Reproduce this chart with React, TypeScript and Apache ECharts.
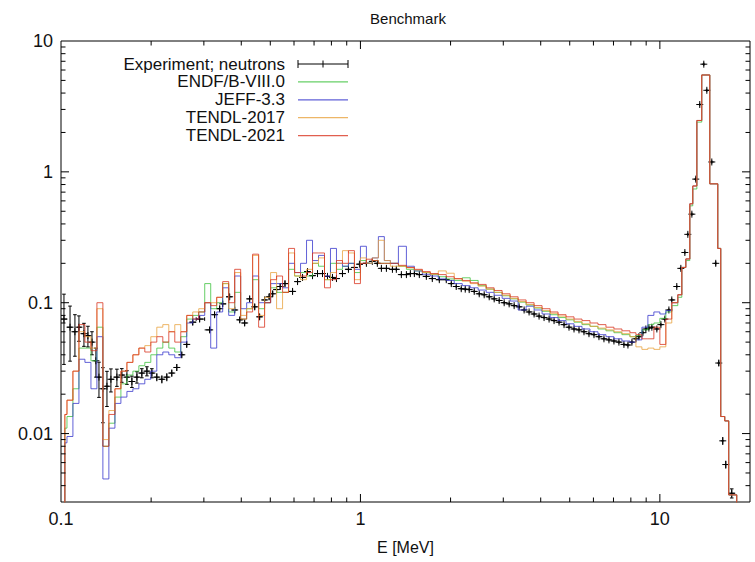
import React, { useEffect, useRef } from "react";
import * as echarts from "echarts";

// ---------- data ----------
// common group (bin) edges of the calculated spectra, MeV
const binEdges = [
  0.103, 0.1047, 0.1096, 0.1148, 0.1202, 0.1259, 0.1318, 0.138, 0.1445, 0.1514,
  0.1585, 0.166, 0.1738, 0.182, 0.1905, 0.1995, 0.2089, 0.2188, 0.2291, 0.2399,
  0.2512, 0.263, 0.2754, 0.2884, 0.302, 0.3162, 0.3311, 0.3467, 0.3631, 0.3802,
  0.3981, 0.4169, 0.4365, 0.4571, 0.4786, 0.5012, 0.5248, 0.5495, 0.5754, 0.6026,
  0.631, 0.6607, 0.6918, 0.7244, 0.7586, 0.7943, 0.8318, 0.871, 0.912, 0.955,
  1.0, 1.047, 1.096, 1.148, 1.202, 1.259,
  1.339, 1.424, 1.514, 1.61, 1.711, 1.82, 1.935, 2.057, 2.188, 2.326,
  2.473, 2.63, 2.796, 2.973, 3.162, 3.362, 3.575, 3.802, 4.042, 4.299,
  4.571, 4.86, 5.168, 5.495, 5.843, 6.213, 6.607, 7.025, 7.47, 7.943,
  8.318, 8.71, 9.12, 9.55, 10.0, 10.47, 10.96, 11.48, 11.84, 12.21,
  12.59, 12.88, 13.29, 13.8, 14.68, 15.61, 15.97, 16.47, 16.98, 18.06,
];

const endfB8 = [
  0.011, 0.0135, 0.022, 0.045, 0.045, 0.036, 0.065, 0.008, 0.012, 0.019,
  0.024, 0.028, 0.03, 0.033, 0.035, 0.04, 0.045, 0.05, 0.045, 0.042,
  0.055, 0.075, 0.08, 0.085, 0.14, 0.09, 0.1, 0.14, 0.085, 0.12,
  0.075, 0.09, 0.15, 0.09, 0.1, 0.13, 0.12, 0.12, 0.18, 0.16,
  0.17, 0.16, 0.2, 0.19, 0.15, 0.2, 0.18, 0.19, 0.2, 0.17,
  0.21, 0.2, 0.21, 0.2, 0.2,
  0.2, 0.19, 0.18, 0.175, 0.17, 0.165, 0.158, 0.152, 0.148, 0.155,
  0.148, 0.135, 0.127, 0.12, 0.113, 0.107, 0.101, 0.096, 0.091, 0.086,
  0.081, 0.077, 0.074, 0.071, 0.068, 0.066, 0.063, 0.061, 0.059, 0.057,
  0.055, 0.056, 0.062, 0.068, 0.07, 0.076, 0.085, 0.095, 0.11,
  0.186, 0.21, 0.55, 0.74, 2.4, 5.5, 0.81, 0.26, 0.0135, 0.0125, 0.0034,
];

const jeff33 = [
  0.0085, 0.0095, 0.017, 0.037, 0.035, 0.022, 0.055, 0.0045, 0.011, 0.017,
  0.019, 0.021, 0.022, 0.024, 0.026, 0.03, 0.04, 0.042, 0.04, 0.038,
  0.05, 0.07, 0.075, 0.08, 0.1, 0.045, 0.085, 0.13, 0.08, 0.16,
  0.09, 0.1, 0.16, 0.1, 0.1, 0.14, 0.14, 0.13, 0.2, 0.17,
  0.2, 0.3, 0.21, 0.23, 0.16, 0.26, 0.2, 0.19, 0.2, 0.18,
  0.27, 0.2, 0.22, 0.32, 0.21,
  0.2, 0.27, 0.19, 0.175, 0.165, 0.16, 0.152, 0.148, 0.14, 0.135,
  0.13, 0.125, 0.12, 0.114, 0.108, 0.103, 0.088, 0.094, 0.088, 0.082,
  0.077, 0.073, 0.069, 0.066, 0.063, 0.06, 0.057, 0.055, 0.053, 0.051,
  0.05, 0.052, 0.065, 0.08, 0.085, 0.082, 0.087, 0.1, 0.115,
  0.186, 0.216, 0.57, 0.78, 2.47, 5.5, 0.81, 0.26, 0.0135, 0.0125, 0.0034,
];

const tendl2017 = [
  0.014, 0.018, 0.03, 0.06, 0.055, 0.045, 0.09, 0.009, 0.015, 0.022,
  0.03, 0.035, 0.04, 0.045, 0.047, 0.055, 0.065, 0.068, 0.06, 0.068,
  0.06, 0.08, 0.085, 0.09, 0.1, 0.1, 0.11, 0.14, 0.09, 0.17,
  0.08, 0.09, 0.23, 0.08, 0.11, 0.17, 0.09, 0.12, 0.24, 0.16,
  0.15, 0.18, 0.2, 0.22, 0.15, 0.17, 0.2, 0.25, 0.24, 0.15,
  0.22, 0.2, 0.22, 0.3, 0.21,
  0.19, 0.19, 0.185, 0.178, 0.17, 0.165, 0.175, 0.168, 0.152, 0.146,
  0.14, 0.134, 0.127, 0.12, 0.114, 0.108, 0.102, 0.097, 0.092, 0.087,
  0.083, 0.079, 0.075, 0.072, 0.069, 0.066, 0.064, 0.062, 0.06, 0.058,
  0.055, 0.046, 0.044, 0.045, 0.044, 0.046, 0.07, 0.1, 0.115,
  0.186, 0.216, 0.57, 0.78, 2.47, 5.5, 0.81, 0.26, 0.0135, 0.0125, 0.0034,
];

const tendl2021 = [
  0.014, 0.018, 0.03, 0.068, 0.05, 0.043, 0.1, 0.008, 0.014, 0.022,
  0.03, 0.035, 0.04, 0.045, 0.042, 0.05, 0.055, 0.05, 0.06, 0.05,
  0.06, 0.08, 0.075, 0.085, 0.1, 0.095, 0.11, 0.145, 0.1, 0.18,
  0.075, 0.085, 0.235, 0.065, 0.1, 0.15, 0.16, 0.12, 0.26, 0.17,
  0.16, 0.17, 0.24, 0.24, 0.13, 0.15, 0.21, 0.2, 0.25, 0.14,
  0.2, 0.215, 0.21, 0.2, 0.2,
  0.2, 0.193, 0.186, 0.18, 0.173, 0.167, 0.164, 0.158, 0.153, 0.148,
  0.142, 0.138, 0.13, 0.124, 0.117, 0.111, 0.105, 0.1, 0.095, 0.09,
  0.085, 0.081, 0.078, 0.075, 0.073, 0.07, 0.068, 0.065, 0.063, 0.061,
  0.059, 0.057, 0.053, 0.053, 0.065, 0.048, 0.075, 0.1, 0.115,
  0.186, 0.216, 0.57, 0.78, 2.47, 5.5, 0.81, 0.26, 0.0135, 0.0125, 0.0034,
];

// experiment (neutrons): energy, value, relative uncertainty
const expEnergy = [
  0.1023, 0.1072, 0.1113, 0.1148, 0.1193, 0.123, 0.1269, 0.1308, 0.1339, 0.138,
  0.1424, 0.1468, 0.1537, 0.1596, 0.166, 0.1725, 0.1793, 0.1862, 0.1936, 0.2011,
  0.2089, 0.2172, 0.2256, 0.2344, 0.2436, 0.2531, 0.263, 0.2754, 0.2904, 0.3137,
  0.3258, 0.3388, 0.3467, 0.3657, 0.3802, 0.3954, 0.4105, 0.4266, 0.4436, 0.4606,
  0.4786, 0.4955, 0.5093, 0.5248, 0.5395, 0.5598, 0.5934, 0.6166, 0.6407, 0.6657,
  0.6918, 0.7189, 0.747, 0.7762, 0.8065, 0.8318, 0.871, 0.912, 0.955, 0.9924,
  1.047, 1.096, 1.139, 1.175, 1.221, 1.279, 1.318, 1.37, 1.424, 1.468,
  1.514, 1.573, 1.66, 1.738, 1.834, 1.935, 2.011, 2.089, 2.171, 2.239,
  2.308, 2.399, 2.493, 2.59, 2.692, 2.797, 2.906, 3.02, 3.138, 3.261,
  3.388, 3.521, 3.658, 3.802, 3.95, 4.105, 4.266, 4.433, 4.606, 4.786,
  4.973, 5.168, 5.37, 5.58, 5.798, 6.026, 6.261, 6.506, 6.761, 7.025,
  7.3, 7.586, 7.824, 8.068, 8.318, 8.511, 8.776, 8.98, 9.19, 9.404,
  9.772, 10.08, 10.39, 10.72, 10.96, 11.39, 11.75, 12.12, 12.4, 12.79,
  13.18, 13.59, 14.02, 14.35, 14.91, 15.37, 15.73, 16.22, 16.6, 17.38,
];
const expValue = [
  0.075, 0.065, 0.06, 0.065, 0.058, 0.056, 0.05, 0.036, 0.027, 0.022,
  0.023, 0.026, 0.027, 0.028, 0.027, 0.025, 0.027, 0.029, 0.03, 0.029,
  0.027, 0.026, 0.027, 0.029, 0.032, 0.04, 0.048, 0.071, 0.075, 0.062,
  0.081, 0.09, 0.098, 0.111, 0.088, 0.074, 0.07, 0.107, 0.093, 0.078,
  0.105, 0.111, 0.117, 0.126, 0.133, 0.14, 0.122, 0.145, 0.156, 0.173,
  0.161, 0.167, 0.167, 0.159, 0.156, 0.153, 0.167, 0.18, 0.186, 0.197,
  0.2, 0.207, 0.2, 0.183, 0.183, 0.18, 0.18, 0.164, 0.164, 0.167,
  0.167, 0.164, 0.159, 0.153, 0.15, 0.15, 0.14, 0.133, 0.128, 0.127,
  0.126, 0.122, 0.117, 0.115, 0.111, 0.107, 0.104, 0.1, 0.098, 0.095,
  0.093, 0.088, 0.085, 0.082, 0.079, 0.077, 0.075, 0.073, 0.071, 0.068,
  0.065, 0.063, 0.062, 0.06, 0.058, 0.057, 0.055, 0.053, 0.052, 0.051,
  0.05, 0.048, 0.0475, 0.05, 0.053, 0.055, 0.059, 0.063, 0.064, 0.065,
  0.063, 0.068, 0.075, 0.088, 0.105, 0.133, 0.183, 0.242, 0.333, 0.475,
  0.88, 3.27, 6.65, 4.2, 1.19, 0.2, 0.0346, 0.0088, 0.0058, 0.0035,
];
const expRelErr = [
  0.55, 0.45, 0.35, 0.22, 0.2, 0.18, 0.2, 0.25, 0.3, 0.45,
  0.3, 0.2, 0.15, 0.12, 0.12, 0.1, 0.1, 0.08, 0.08, 0.08,
  0.07, 0.07, 0.07, 0.06, 0.06, 0.05, 0.05, 0.05, 0.05, 0.05,
  0.05, 0.05, 0.05, 0.05, 0.05, 0.05, 0.05, 0.05, 0.05, 0.05,
  0.05, 0.05, 0.05, 0.05, 0.05, 0.05, 0.05, 0.04, 0.04, 0.04,
  0.03, 0.03, 0.03, 0.03, 0.03, 0.03, 0.03, 0.03, 0.03, 0.03,
  0.03, 0.03, 0.03, 0.03, 0.03, 0.03, 0.03, 0.03, 0.03, 0.03,
  0.03, 0.03, 0.03, 0.03, 0.03, 0.03, 0.03, 0.03, 0.03, 0.03,
  0.03, 0.03, 0.03, 0.03, 0.03, 0.03, 0.03, 0.03, 0.03, 0.03,
  0.03, 0.03, 0.03, 0.03, 0.03, 0.03, 0.03, 0.03, 0.03, 0.03,
  0.03, 0.03, 0.03, 0.03, 0.03, 0.03, 0.03, 0.03, 0.03, 0.03,
  0.03, 0.03, 0.03, 0.03, 0.03, 0.03, 0.03, 0.03, 0.03, 0.03,
  0.03, 0.03, 0.03, 0.03, 0.03, 0.03, 0.03, 0.03, 0.03, 0.03,
  0.03, 0.03, 0.03, 0.03, 0.03, 0.04, 0.05, 0.07, 0.07, 0.08,
];

const xMajorTicks = [1, 10];
const xMinorTicks = [0.2, 0.3, 0.4, 0.5, 0.6, 0.7, 0.8, 0.9, 2, 3, 4, 5, 6, 7, 8, 9];
const yMajorTicks = [0.01, 0.1, 1];
const yMinorTicks = [
  0.004, 0.005, 0.006, 0.007, 0.008, 0.009,
  0.02, 0.03, 0.04, 0.05, 0.06, 0.07, 0.08, 0.09,
  0.2, 0.3, 0.4, 0.5, 0.6, 0.7, 0.8, 0.9,
  2, 3, 4, 5, 6, 7, 8, 9,
];

const seriesNames = ["Experiment; neutrons", "ENDF/B-VIII.0", "JEFF-3.3", "TENDL-2017", "TENDL-2021"];
const seriesColors = ["#000000", "#3cc23c", "#3434cc", "#e8a23c", "#d8321e"];

const X_MIN = 0.1;
const X_MAX = 20;
const Y_MIN = 0.003;
const Y_MAX = 10;
const BELOW = 1e-5; // drawn below the axis (spectrum not given there)

const FONT = "'Liberation Sans', Arial, Helvetica, sans-serif";

function stepData(values: number[]) {
  const pts: number[][] = [[binEdges[0], BELOW]];
  for (let i = 0; i < values.length; i++) pts.push([binEdges[i], values[i]]);
  pts.push([binEdges[binEdges.length - 1], BELOW]);
  return pts;
}

function experimentData() {
  const n = expEnergy.length;
  return expEnergy.map((e, i) => {
    const prev = i > 0 ? expEnergy[i - 1] : (e * e) / expEnergy[i + 1];
    const next = i < n - 1 ? expEnergy[i + 1] : (e * e) / expEnergy[i - 1];
    const v = expValue[i];
    const dv = v * expRelErr[i];
    return [e, v, Math.sqrt(prev * e), Math.sqrt(e * next), v - dv, v + dv];
  });
}

function tickData() {
  const d: number[][] = [];
  xMajorTicks.forEach((v) => d.push([v, Y_MIN, 0]));
  xMinorTicks.forEach((v) => d.push([v, Y_MIN, 1]));
  yMajorTicks.forEach((v) => d.push([X_MIN, v, 2]));
  yMinorTicks.forEach((v) => d.push([X_MIN, v, 3]));
  return d;
}

export default function App() {
  const ref = useRef<HTMLDivElement>(null);

  useEffect(() => {
    if (!ref.current) return;
    const chart = echarts.init(ref.current, undefined, { renderer: "svg" });

    const line = (x1: number, y1: number, x2: number, y2: number, stroke = "#000") => ({
      type: "line",
      shape: { x1, y1, x2, y2 },
      style: { stroke, lineWidth: 1 },
    });

    const evalSeries = [endfB8, jeff33, tendl2017, tendl2021].map((vals, i) => ({
      name: seriesNames[i + 1],
      type: "line",
      step: "end",
      data: stepData(vals),
      showSymbol: false,
      symbol: "none",
      clip: true,
      silent: true,
      lineStyle: { color: seriesColors[i + 1], width: 1, opacity: 0.78 },
      itemStyle: { color: seriesColors[i + 1] },
      z: 3 + i,
    }));

    // legend drawn like the gnuplot key
    const legendX = 285;
    const sampleX1 = 298;
    const sampleX2 = 348;
    const legendY0 = 64;
    const legendDy = 17.9;
    const legendFont = 17;
    const legendGraphics: any[] = [];
    seriesNames.forEach((name, i) => {
      const y = legendY0 + i * legendDy;
      legendGraphics.push({
        type: "text",
        x: legendX,
        y,
        style: {
          text: name,
          align: "right",
          verticalAlign: "middle",
          textAlign: "right",
          textVerticalAlign: "middle",
          font: `${legendFont}px ${FONT}`,
          fontSize: legendFont,
          fontFamily: FONT,
          fill: "#111",
        },
      });
      if (i === 0) {
        const cx = (sampleX1 + sampleX2) / 2;
        legendGraphics.push(
          line(sampleX1, y, sampleX2, y),
          line(sampleX1, y - 4, sampleX1, y + 4),
          line(sampleX2, y - 4, sampleX2, y + 4),
          line(cx, y - 3.5, cx, y + 3.5),
        );
      } else {
        legendGraphics.push({
          type: "line",
          shape: { x1: sampleX1, y1: y, x2: sampleX2, y2: y },
          style: { stroke: seriesColors[i], lineWidth: 1.2, opacity: 0.78 },
        });
      }
    });

    const option: any = {
      animation: false,
      backgroundColor: "#ffffff",
      textStyle: { fontFamily: FONT },
      title: {
        text: "Benchmark",
        left: 403,
        top: 6,
        textAlign: "center",
        textStyle: { fontFamily: FONT, fontSize: 15, fontWeight: "normal", color: "#111" },
      },
      grid: {
        left: 61,
        right: 5,
        top: 41,
        bottom: 60,
        show: true,
        borderColor: "#000",
        borderWidth: 1,
        backgroundColor: "transparent",
      },
      xAxis: {
        type: "log",
        logBase: 10,
        min: X_MIN,
        max: X_MAX,
        name: "E [MeV]",
        nameLocation: "middle",
        nameGap: 37,
        nameTextStyle: { fontFamily: FONT, fontSize: 16, color: "#111" },
        axisLine: { show: false },
        axisTick: { show: false },
        splitLine: { show: false },
        minorTick: { show: false },
        axisLabel: {
          fontFamily: FONT,
          fontSize: 18,
          color: "#111",
          margin: 8,
          showMaxLabel: false,
          formatter: (v: number) => `${parseFloat(Number(v).toPrecision(6))}`,
        },
      },
      yAxis: {
        type: "log",
        logBase: 10,
        min: Y_MIN,
        max: Y_MAX,
        axisLine: { show: false },
        axisTick: { show: false },
        splitLine: { show: false },
        minorTick: { show: false },
        axisLabel: {
          fontFamily: FONT,
          fontSize: 18,
          color: "#111",
          margin: 8,
          showMinLabel: false,
          formatter: (v: number) => `${parseFloat(Number(v).toPrecision(6))}`,
        },
      },
      graphic: legendGraphics,
      series: [
        {
          name: seriesNames[0],
          type: "custom",
          data: experimentData(),
          encode: { x: 0, y: 1 },
          clip: true,
          silent: true,
          z: 2,
          itemStyle: { color: "#000" },
          renderItem: (_p: any, api: any) => {
            const e = api.value(0);
            const v = api.value(1);
            const lo = api.value(2);
            const hi = api.value(3);
            const vlo = api.value(4);
            const vhi = api.value(5);
            const c = api.coord([e, v]);
            const pl = api.coord([lo, v]);
            const ph = api.coord([hi, v]);
            const pb = api.coord([e, vlo]);
            const pt = api.coord([e, vhi]);
            const cap = 1.8;
            const s = 3.5;
            const children: any[] = [
              line(pl[0], c[1], ph[0], c[1]),
              line(c[0] - s, c[1], c[0] + s, c[1]),
              line(c[0], c[1] - s, c[0], c[1] + s),
              line(c[0], pt[1], c[0], pb[1]),
            ];
            if (ph[0] - pl[0] > 2 * s + 1) {
              children.push(line(pl[0], c[1] - cap, pl[0], c[1] + cap));
              children.push(line(ph[0], c[1] - cap, ph[0], c[1] + cap));
            }
            if (pb[1] - pt[1] > 2 * s + 1) {
              children.push(line(c[0] - cap, pt[1], c[0] + cap, pt[1]));
              children.push(line(c[0] - cap, pb[1], c[0] + cap, pb[1]));
            }
            return { type: "group", children };
          },
        },
        ...evalSeries,
        {
          name: "ticks",
          type: "custom",
          data: tickData(),
          encode: { x: 0, y: 1 },
          silent: true,
          clip: false,
          z: 10,
          renderItem: (_p: any, api: any) => {
            const kind = api.value(2);
            if (kind < 2) {
              const x = api.value(0);
              const b = api.coord([x, Y_MIN]);
              const t = api.coord([x, Y_MAX]);
              const len = kind === 0 ? 8 : 4.5;
              return {
                type: "group",
                children: [line(b[0], b[1], b[0], b[1] - len), line(t[0], t[1], t[0], t[1] + len)],
              };
            }
            const y = api.value(1);
            const l = api.coord([X_MIN, y]);
            const r = api.coord([X_MAX, y]);
            const len = kind === 2 ? 8 : 4.5;
            return {
              type: "group",
              children: [line(l[0], l[1], l[0] + len, l[1]), line(r[0], r[1], r[0] - len, r[1])],
            };
          },
        },
      ],
    };

    chart.setOption(option);
    return () => chart.dispose();
  }, []);

  return (
    <div
      ref={ref}
      style={{ position: "absolute", left: 0, top: 0, width: 755, height: 562, background: "#fff" }}
    />
  );
}
